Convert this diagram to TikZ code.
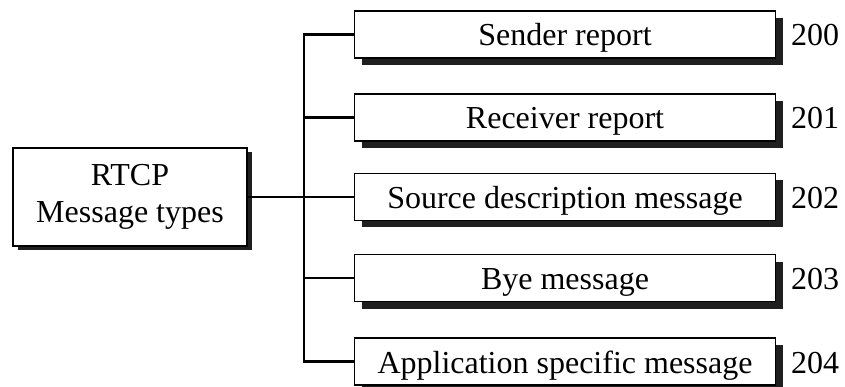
\documentclass[tikz,border=0pt]{standalone}
\usepackage{fontspec}
\setmainfont{Liberation Serif}
\usetikzlibrary{shadows}
\begin{document}
\begin{tikzpicture}[x=1pt,y=-1pt,
  every node/.style={font=\fontsize{32}{37}\selectfont},
  msgbox/.style={draw=black, line width=1.6pt, fill=white, inner sep=0pt,
    minimum width=421pt, minimum height=47pt, text height=32pt, text depth=9pt,
    drop shadow={shadow xshift=7pt, shadow yshift=-7pt, fill=black!88, opacity=1}},
  rootbox/.style={draw=black, line width=1.6pt, fill=white, inner sep=0pt,
    minimum width=234pt, minimum height=98pt,
    drop shadow={shadow xshift=5pt, shadow yshift=-4pt, fill=black!88, opacity=1}},
  num/.style={inner sep=0pt, text height=32pt, text depth=9pt},
  conn/.style={line width=2.4pt}]
\useasboundingbox (0,0) rectangle (845,387);
\node[rootbox] (root) at (130,197) {\raisebox{-2pt}{\begin{tabular}{@{}c@{}}RTCP\\Message types\end{tabular}}};
\node[msgbox] (m0) at (565,34.5) {Sender report};
\node[msgbox] (m1) at (565,117.5) {Receiver report};
\node[msgbox] (m2) at (565,197) {Source description message};
\node[msgbox] (m3) at (565,278) {Bye message};
\node[msgbox] (m4) at (565,361.5) {Application specific message};
\node[num] (n0) at (815,34.5) {200};
\node[num] (n1) at (815,117.5) {201};
\node[num] (n2) at (815,197) {202};
\node[num] (n3) at (815,278) {203};
\node[num] (n4) at (815,361.5) {204};
\coordinate (bus) at (304,197);
\draw[conn] (root.east) -- (m2.west);
\draw[conn] (m0.west) -| (bus) |- (m4.west);
\draw[conn] (bus |- m1.west) -- (m1.west);
\draw[conn] (bus |- m3.west) -- (m3.west);
\end{tikzpicture}
\end{document}
